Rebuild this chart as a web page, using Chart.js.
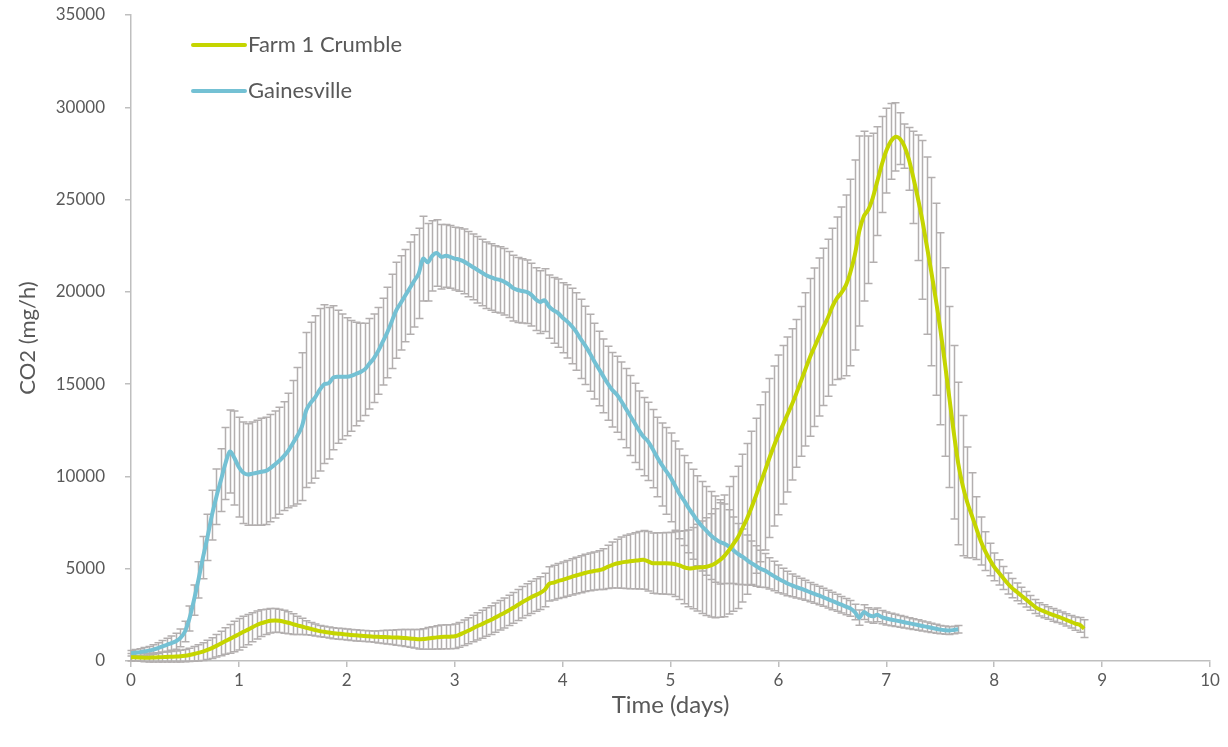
<!DOCTYPE html>
<html>
<head>
<meta charset="utf-8">
<script src="https://cdn.jsdelivr.net/npm/chart.js@4.4.0/dist/chart.umd.min.js"></script>
<style>
  html, body { margin: 0; padding: 0; background: #ffffff; }
  canvas { display: block; }
</style>
</head>
<body>
<canvas id="co2Chart" width="1228" height="747"></canvas>
<script>
// Hourly CO2 readings (mg/h), one row per day; x is time in days
const readingsPerDay = 24;
const seriesNames = ["Farm 1 Crumble", "Gainesville"];
const seriesColors = ["#c5d500", "#74c1d4"];
const errorBarColor = "#b3afaf";

const farmMean = [
  200,200,190,180,180,190,200,210,220,230,240,260,290,330,380,440,510,600,700,820,950,1080,1200,1330,
  1450,1580,1700,1830,1950,2050,2120,2180,2200,2180,2130,2070,2000,1930,1870,1800,1740,1680,1620,1580,1540,1500,1480,1460,
  1440,1410,1390,1370,1350,1340,1320,1310,1300,1290,1280,1270,1260,1240,1220,1200,1180,1190,1220,1250,1280,1300,1310,1320,
  1340,1420,1530,1640,1760,1880,1990,2110,2220,2350,2480,2600,2740,2880,3030,3180,3320,3450,3570,3680,3850,4180,4250,4330,
  4400,4480,4560,4630,4700,4770,4830,4880,4920,4980,5100,5200,5280,5330,5370,5400,5430,5460,5480,5400,5300,5300,5290,5290,
  5280,5250,5180,5080,5020,5030,5060,5080,5110,5180,5300,5470,5700,6000,6350,6700,7200,7700,8300,8950,9630,10300,11000,11650,
  12250,12800,13350,13900,14500,15150,15800,16450,17000,17550,18100,18600,19200,19650,19950,20350,21050,22000,23300,24100,24450,25100,26000,26900,
  27650,28150,28400,28300,27900,27200,26200,25100,23900,22500,21100,19600,18000,16200,14300,12400,10700,9500,8600,7900,7200,6500,5950,5500,
  5100,4800,4500,4200,3950,3750,3550,3350,3150,2950,2800,2700,2600,2500,2420,2330,2230,2130,2030,1960,1750
];
const farmErr = [
  200,200,210,220,230,240,250,260,270,290,300,320,330,360,400,440,480,520,560,610,660,720,780,830,
  850,840,820,790,760,720,690,660,640,630,620,600,560,500,440,380,340,320,310,300,300,300,300,300,
  300,300,300,300,300,300,310,330,350,370,390,420,440,460,480,500,530,560,590,610,630,650,650,650,
  660,670,690,700,720,740,760,770,780,790,800,810,820,830,840,850,860,870,880,890,910,930,940,950,
  960,970,980,990,1000,1010,1020,1030,1050,1100,1170,1250,1320,1390,1440,1480,1520,1560,1590,1610,1630,1650,1660,1670,
  1680,1750,1850,1980,2080,2200,2350,2500,2650,2800,2950,3100,3300,3450,3650,3850,4000,4080,4150,4200,4250,4280,4310,4330,
  4330,4300,4200,4100,4000,4050,4150,4270,4290,4280,4260,4250,4250,4400,4650,4900,5050,5150,5150,4600,4000,3500,2950,2600,
  2300,2050,1850,1400,1200,1700,2500,3400,4300,4800,5100,5200,5200,5100,4900,4700,4400,3800,3000,2300,1700,1300,1050,880,
  750,680,620,570,520,480,450,420,400,380,360,350,340,340,330,330,330,340,360,400,480
];

const gainMean = [
  420,450,480,520,560,620,700,790,880,970,1070,1250,1600,2300,3300,4400,5600,6700,7900,8900,9800,10700,11350,11000,
  10500,10200,10100,10150,10200,10250,10300,10450,10650,10850,11100,11400,11800,12200,12700,13600,14000,14300,14700,15000,15050,15350,15400,15400,
  15400,15450,15550,15650,15800,16100,16400,16800,17300,17800,18400,19000,19400,19800,20200,20600,21000,21800,21600,21950,22100,21900,21950,21900,
  21800,21750,21650,21500,21350,21200,21050,20900,20800,20700,20650,20550,20400,20200,20100,20050,20000,19850,19600,19450,19550,19200,19000,18850,
  18600,18400,18150,17850,17450,17100,16700,16250,15850,15450,15050,14700,14450,14100,13700,13300,12900,12500,12150,11900,11500,11050,10650,10300,
  9950,9500,9050,8700,8300,7950,7600,7300,7050,6800,6600,6450,6350,6200,6000,5800,5650,5470,5300,5150,5000,4900,4750,4600,
  4450,4330,4200,4100,4000,3920,3830,3730,3640,3550,3450,3350,3250,3150,3050,2950,2850,2650,2350,2650,2500,2420,2500,2380,
  2300,2250,2200,2150,2100,2050,2000,1950,1900,1850,1800,1750,1700,1670,1650,1680,1720
];
const gainErr = [
  150,170,190,210,230,260,290,320,350,390,430,480,560,680,820,980,1150,1250,1350,1500,1700,1950,2250,2550,
  2700,2750,2750,2800,2850,2900,2900,2900,2900,2900,2950,3100,3400,3700,4000,4200,4350,4400,4400,4300,4100,3900,3600,3400,
  3200,3000,2800,2650,2500,2450,2400,2350,2350,2450,2550,2600,2550,2500,2500,2500,2450,2300,2100,1900,1800,1750,1700,1700,
  1700,1720,1750,1770,1780,1800,1800,1800,1800,1800,1800,1800,1790,1780,1760,1740,1720,1700,1700,1700,1700,1720,1780,1850,
  1900,1980,2050,2100,2150,2120,2080,2050,2020,2000,2000,2020,2060,2100,2150,2170,2150,2130,2120,2120,2120,2150,2250,2350,
  2400,2420,2430,2440,2440,2440,2440,2420,2400,2380,2340,2280,2150,2000,1800,1650,1500,1350,1200,1100,1000,920,850,800,
  750,700,660,620,590,560,540,520,510,500,490,480,470,460,450,440,430,420,410,400,390,380,370,360,
  350,340,330,320,310,300,290,280,270,260,250,240,230,220,210,200,200
];

const dayTicks = [0, 1, 2, 3, 4, 5, 6, 7, 8, 9, 10];
const co2Ticks = [0, 5000, 10000, 15000, 20000, 25000, 30000, 35000];

const toPoints = (values) =>
  values.map((v, i) => ({ x: i / readingsPerDay, y: v }));

const axisGrey = "#bfbfbf";
const labelGrey = "#595959";
const fontFamily = "Lato, 'Open Sans', sans-serif";

// vertical error bars with caps, drawn under the lines
const errorBars = {
  id: "errorBars",
  beforeDatasetsDraw(chart) {
    const { ctx, scales: { x, y } } = chart;
    ctx.save();
    ctx.strokeStyle = errorBarColor;
    ctx.lineWidth = 1.5;
    chart.data.datasets.forEach((ds) => {
      const cap = 4;
      ds.data.forEach((p, i) => {
        const e = ds.errors[i];
        const px = Math.round(x.getPixelForValue(p.x)) + 0.5;
        const top = y.getPixelForValue(p.y + e);
        const bot = y.getPixelForValue(p.y - e);
        ctx.beginPath();
        ctx.moveTo(px, top);
        ctx.lineTo(px, bot);
        ctx.moveTo(px - cap, top);
        ctx.lineTo(px + cap, top);
        ctx.moveTo(px - cap, bot);
        ctx.lineTo(px + cap, bot);
        ctx.stroke();
      });
    });
    ctx.restore();
  },
};

// legend sitting inside the plot, top left
const insideLegend = {
  id: "insideLegend",
  afterDraw(chart) {
    const { ctx, chartArea } = chart;
    ctx.save();
    ctx.font = "22px " + fontFamily;
    ctx.textBaseline = "middle";
    ctx.lineCap = "round";
    chart.data.datasets.forEach((ds, i) => {
      const y = chartArea.top + 30 + i * 46;
      const x0 = chartArea.left + 62;
      ctx.strokeStyle = ds.borderColor;
      ctx.lineWidth = 4;
      ctx.beginPath();
      ctx.moveTo(x0, y);
      ctx.lineTo(x0 + 52, y);
      ctx.stroke();
      ctx.fillStyle = labelGrey;
      ctx.fillText(ds.label, x0 + 55, y);
    });
    ctx.restore();
  },
};

new Chart(document.getElementById("co2Chart").getContext("2d"), {
  type: "line",
  data: {
    datasets: [
      {
        label: seriesNames[0],
        data: toPoints(farmMean),
        errors: farmErr,
        borderColor: seriesColors[0],
        backgroundColor: seriesColors[0],
        borderWidth: 4,
        pointRadius: 0,
        tension: 0.3,
      },
      {
        label: seriesNames[1],
        data: toPoints(gainMean),
        errors: gainErr,
        borderColor: seriesColors[1],
        backgroundColor: seriesColors[1],
        borderWidth: 4,
        pointRadius: 0,
        tension: 0.3,
      },
    ],
  },
  options: {
    responsive: false,
    animation: false,
    maintainAspectRatio: false,
    layout: { padding: { left: 0, right: 18, top: 15, bottom: 0 } },
    plugins: {
      legend: { display: false },
      tooltip: { enabled: false },
    },
    scales: {
      x: {
        type: "linear",
        min: 0,
        max: 10,
        afterBuildTicks: (scale) => {
          scale.ticks = dayTicks.map((v) => ({ value: v }));
        },
        afterFit: (scale) => {
          scale.height = 86;
          scale.paddingLeft = 0;
          scale.paddingRight = 0;
        },
        grid: {
          display: true,
          drawOnChartArea: false,
          color: axisGrey,
          tickLength: 6,
          lineWidth: 1.5,
        },
        border: { color: axisGrey, width: 1.5 },
        ticks: {
          color: labelGrey,
          font: { family: fontFamily, size: 17 },
          padding: 3,
          maxRotation: 0,
        },
        title: {
          display: true,
          text: "Time (days)",
          color: labelGrey,
          font: { family: fontFamily, size: 24 },
          padding: { top: 0, bottom: 27 },
        },
      },
      y: {
        type: "linear",
        min: 0,
        max: 35000,
        afterBuildTicks: (scale) => {
          scale.ticks = co2Ticks.map((v) => ({ value: v }));
        },
        afterFit: (scale) => {
          scale.width = 131;
          scale.paddingTop = 0;
          scale.paddingBottom = 0;
        },
        grid: {
          display: true,
          drawOnChartArea: false,
          color: axisGrey,
          tickLength: 6,
          lineWidth: 1.5,
        },
        border: { color: axisGrey, width: 1.5 },
        ticks: {
          color: labelGrey,
          font: { family: fontFamily, size: 17 },
          padding: 20,
          callback: (v) => String(v),
        },
        title: {
          display: true,
          text: "CO2 (mg/h)",
          color: labelGrey,
          font: { family: fontFamily, size: 22 },
          padding: { top: 15, bottom: 0 },
        },
      },
    },
  },
  plugins: [errorBars, insideLegend],
});
</script>
</body>
</html>
